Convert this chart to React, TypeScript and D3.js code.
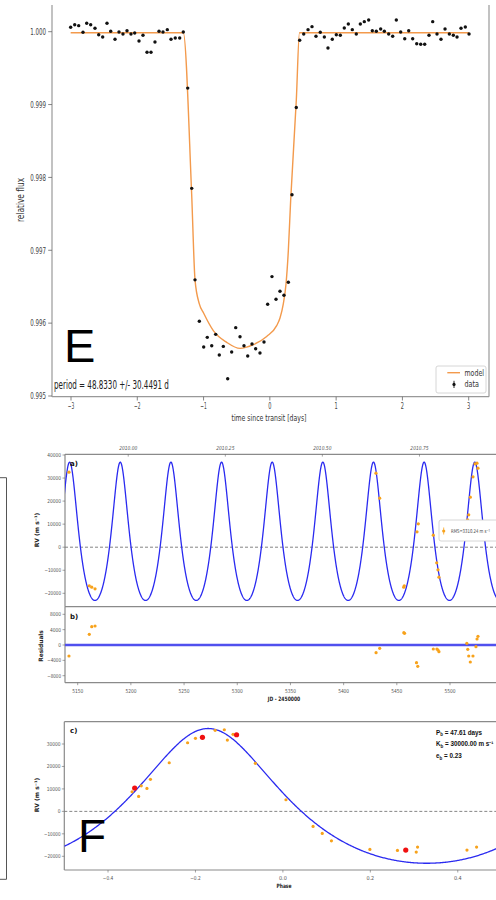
import React from 'react';
import * as d3 from 'd3';

// ---------- Panel E : transit light curve ----------
const transitTime = [-3.005,-2.944,-2.884,-2.819,-2.763,-2.703,-2.638,-2.582,-2.522,-2.457,-2.401,-2.336,-2.276,-2.216,-2.155,-2.095,-2.039,-1.974,-1.914,-1.853,-1.793,-1.733,-1.672,-1.612,-1.547,-1.491,-1.427,-1.360,-1.306,-1.239,-1.179,-1.129,-1.064,-0.998,-0.944,-0.877,-0.817,-0.763,-0.702,-0.636,-0.576,-0.515,-0.450,-0.390,-0.334,-0.269,-0.214,-0.149,-0.088,-0.033,0.032,0.093,0.153,0.213,0.279,0.334,0.399,0.450,0.511,0.576,0.636,0.696,0.761,0.822,0.877,0.942,1.003,1.063,1.123,1.184,1.244,1.304,1.365,1.425,1.491,1.546,1.606,1.672,1.727,1.793,1.853,1.908,1.974,2.035,2.095,2.155,2.216,2.276,2.336,2.401,2.457,2.522,2.582,2.643,2.708,2.768,2.824,2.884,2.949,3.005];
const transitFlux = [1.000061,1.000096,1.000083,0.999992,1.000116,1.000096,1.000047,0.999959,0.999927,1.000116,1.000006,0.999896,0.999996,0.999968,1.000014,0.999968,0.999982,0.999872,0.999951,0.999717,0.999717,0.999858,1.000006,0.999996,1.000028,0.999896,0.999913,0.999913,0.999996,0.999226,0.997850,0.996594,0.996025,0.995673,0.995805,0.995690,0.995846,0.995563,0.995681,0.995237,0.995604,0.995938,0.995814,0.995690,0.995549,0.995714,0.995649,0.995590,0.995741,0.996259,0.996639,0.996327,0.996437,0.996382,0.996561,0.997763,0.998960,0.999882,0.999968,1.000028,1.000069,0.999937,0.999992,0.999927,0.999776,0.999896,0.999959,0.999951,1.000051,1.000106,1.000028,0.999968,1.000106,1.000138,1.000161,1.000014,1.000006,1.000037,1.000006,0.999968,0.999937,1.000161,0.999996,0.999904,1.000014,0.999904,0.999835,0.999827,0.999827,0.999951,1.000138,0.999968,0.999896,1.000037,0.999968,0.999951,0.999927,1.000047,1.000065,0.999968];
const modelTime = [-3.005,-1.306,-1.18,-1.129,-1.064,-0.998,-0.853,-0.651,-0.450,-0.250,-0.048,0.103,0.153,0.203,0.244,0.279,0.314,0.399,0.447,3.005];
const modelFlux = [0.999986,0.999986,0.99778,0.996594,0.996264,0.996135,0.995897,0.995736,0.995653,0.995704,0.995818,0.995966,0.996071,0.996264,0.996539,0.996997,0.997685,0.999059,0.999986,0.999986];
const eXTicks = [-3,-2,-1,0,1,2,3];
const eYTicks = [0.995,0.996,0.997,0.998,0.999,1.000];

// ---------- Panel F : radial velocities ----------
const rvJD = [5141.8,5160.9,5163.2,5166.3,5430.4,5433.9,5456.5,5457.0,5469.0,5470.2,5484.3,5487.5,5488.7,5489.6,5516.6,5517.6,5519.1,5521.6,5523.5,5525.4,5526.3];
const rvVal = [32540,-16750,-17350,-18050,32100,21260,-17350,-16750,6680,10150,5200,-6770,-9800,-13000,11890,14060,21690,30540,36180,36440,34270];
const resJD = [5141.8,5160.9,5163.2,5166.3,5430.5,5433.9,5456.6,5457.3,5468.5,5469.7,5484.3,5487.7,5488.7,5489.6,5515.8,5516.7,5517.6,5519.1,5521.6,5524.4,5525.4,5526.3];
const resVal = [-2860,2790,4770,4950,-1990,-860,3200,3040,-4610,-5550,-1040,-1040,-1300,-1740,440,-1120,-2860,-4430,-2860,-440,1560,2270];
const phaseVal = [-0.345,-0.330,-0.324,-0.311,-0.303,-0.260,-0.218,-0.200,-0.155,-0.134,-0.127,-0.114,-0.063,0.007,0.069,0.090,0.111,0.199,0.262,0.305,0.308,0.421,0.443];
const phaseRV = [8730,6680,11400,10240,14250,21650,30560,32520,36080,36350,31760,34300,21380,5170,-6680,-9800,-13100,-16930,-17370,-18130,-15900,-17240,-15900];
const phaseRedVal = [-0.339,-0.184,-0.106,0.281];
const phaseRedRV = [10380,32960,34120,-17240];
const dateTickJD = [5197.5,5288.8,5380.0,5471.3];
const dateTickLabels = ['2010.00','2010.25','2010.50','2010.75'];
const aYTicks = [-20000,-10000,0,10000,20000,30000,40000];
const bYTicks = [-8000,-4000,0,4000,8000];
const jdTicks = [5150,5200,5250,5300,5350,5400,5450,5500];
const cYTicks = [-20000,-10000,0,10000,20000,30000];
const phaseTicks = [-0.4,-0.2,0.0,0.2,0.4];

// Keplerian fit parameters shown in the figure
const P_b = 47.61;
const K_b = 30000;
const e_b = 0.23;
const omega_b = 0;
const Tperi = 5142.4;
const phasePeri = -0.171;

function keplerRV(M: number): number {
  let E = M;
  for (let i = 0; i < 40; i++) E = E - (E - e_b * Math.sin(E) - M) / (1 - e_b * Math.cos(E));
  const nu = 2 * Math.atan2(Math.sqrt(1 + e_b) * Math.sin(E / 2), Math.sqrt(1 - e_b) * Math.cos(E / 2));
  return K_b * (Math.cos(nu + omega_b) + e_b * Math.cos(omega_b));
}

const fmtMinus = (s: string) => s.replace('-', '\u2212');

function Lbl(props: any) {
  const { x, y, t, size, cw, anchor = 'middle', fill = '#444', family = 'DejaVu Sans', weight = 'normal', style = 'normal', rotate } = props;
  const len = cw ? t.length * cw : undefined;
  return (
    <text x={x} y={y} fontSize={size} fill={fill} fontFamily={family} fontWeight={weight} fontStyle={style}
      textAnchor={anchor} textLength={len} lengthAdjust={len ? 'spacingAndGlyphs' : undefined}
      transform={rotate ? `rotate(${rotate},${x},${y})` : undefined}>{t}</text>
  );
}

export default function App() {
  // ---- E scales
  const ex = d3.scaleLinear().domain([-3, 3]).range([71, 468.7]);
  const ey = d3.scaleLinear().domain([0.995, 1.0]).range([396, 31.7]);
  const eLine = d3.line<number>().x((_, i) => ex(modelTime[i])).y((d) => ey(d)).curve(d3.curveMonotoneX);

  // ---- F scales
  const jx = d3.scaleLinear().domain([5150, 5500]).range([77.7, 450]);
  const ay = d3.scaleLinear().domain([-20000, 40000]).range([593.3, 455]);
  const by = d3.scaleLinear().domain([-8000, 8000]).range([675.7, 614.3]);
  const px = d3.scaleLinear().domain([-0.5, 0.5]).range([64.3, 501.5]);
  const cy = d3.scaleLinear().domain([-20000, 30000]).range([856.3, 744]);

  const tGrid = d3.range(5130, 5570, 0.2);
  const aPath = d3.line<number>().x((t) => jx(t)).y((t) => ay(keplerRV((2 * Math.PI * (t - Tperi)) / P_b)))(tGrid) || '';
  const phGrid = d3.range(-0.5, 0.5005, 0.002);
  const cPath = d3.line<number>().x((p) => px(p)).y((p) => cy(keplerRV(2 * Math.PI * (p - phasePeri))))(phGrid) || '';

  const spineE = '#999';
  const spineF = '#8a8a8a';
  const orange = '#f7a21b';
  const blue = '#2a2af0';

  return (
    <svg width={496} height={900} style={{ position: 'absolute', left: 0, top: 0, background: '#fff' }}>
      <rect x={0} y={0} width={496} height={900} fill="#fff" />
      <defs>
        <clipPath id="clipA"><rect x={65} y={454.3} width={440} height={152.4} /></clipPath>
        <clipPath id="clipB"><rect x={65} y={606.7} width={440} height={76} /></clipPath>
        <clipPath id="clipC"><rect x={64.3} y={721.7} width={440} height={148.3} /></clipPath>
      </defs>

      {/* ================= Panel E ================= */}
      <g>
        <line x1={52} x2={52} y1={5} y2={396.7} stroke={spineE} strokeWidth={1.2} />
        <line x1={52} x2={489} y1={396.7} y2={396.7} stroke={spineE} strokeWidth={1.2} />
        <line x1={489} x2={489} y1={5} y2={396.7} stroke={spineE} strokeWidth={1.2} />
        {eXTicks.map((t) => (
          <g key={'ex' + t}>
            <line x1={ex(t)} x2={ex(t)} y1={396.7} y2={400.5} stroke="#666" strokeWidth={0.8} />
            <Lbl x={ex(t)} y={408.8} t={fmtMinus(String(t))} size={9} cw={3.2} />
          </g>
        ))}
        {eYTicks.map((t) => (
          <g key={'ey' + t}>
            <line x1={48.2} x2={52} y1={ey(t)} y2={ey(t)} stroke="#666" strokeWidth={0.8} />
            <Lbl x={46} y={ey(t) + 3.3} t={t.toFixed(3)} size={9.5} cw={3.15} anchor="end" />
          </g>
        ))}
        <Lbl x={269} y={420.5} t="time since transit [days]" size={9.5} cw={3.0} fill="#333" />
        <Lbl x={24} y={200} t="relative flux" size={10} cw={3.4} fill="#333" rotate={-90} />
        <path d={eLine(modelFlux) || ''} fill="none" stroke="#f39a4c" strokeWidth={1.4} />
        {transitTime.map((t, i) => (
          <circle key={'ed' + i} cx={ex(t)} cy={ey(transitFlux[i])} r={1.7} fill="#111" />
        ))}
        <text x={64} y={361.7} fontSize={47} fontFamily="Liberation Sans" fill="#000">E</text>
        <Lbl x={54} y={388.8} t="period = 48.8330 +/- 30.4491 d" size={12} cw={3.83} anchor="start" fill="#222" />
        <rect x={436} y={366} width={50} height={27} fill="#fff" stroke="#ccc" strokeWidth={0.8} rx={2} />
        <line x1={447.3} x2={460} y1={372.7} y2={372.7} stroke="#f39a4c" strokeWidth={1.4} />
        <Lbl x={464.5} y={375.8} t="model" size={9} cw={3.9} anchor="start" fill="#333" />
        <line x1={454} x2={454} y1={380.8} y2={388} stroke="#111" strokeWidth={0.9} />
        <circle cx={454} cy={384.4} r={1.6} fill="#111" />
        <Lbl x={464.5} y={387.3} t="data" size={9} cw={3.6} anchor="start" fill="#333" />
      </g>

      {/* ================= Panel F ================= */}
      <g>
        {/* outer frame fragment */}
        <path d="M0,477.7 H6.5 V879.3 H0" fill="none" stroke="#555" strokeWidth={1} />

        {/* ---- a) ---- */}
        <line x1={65} x2={496} y1={454.3} y2={454.3} stroke={spineF} strokeWidth={1.2} />
        <line x1={65} x2={65} y1={454.3} y2={606.7} stroke={spineF} strokeWidth={1.2} />
        {dateTickJD.map((d, i) => (
          <g key={'dt' + i}>
            <line x1={jx(d)} x2={jx(d)} y1={454.3} y2={456.6} stroke="#666" strokeWidth={0.6} />
            <Lbl x={jx(d)} y={449.5} t={dateTickLabels[i]} size={5.5} cw={2.6} style="italic" fill="#555" />
          </g>
        ))}
        {aYTicks.map((t) => (
          <g key={'ay' + t}>
            <line x1={62.5} x2={65} y1={ay(t)} y2={ay(t)} stroke="#666" strokeWidth={0.6} />
            <Lbl x={61} y={ay(t) + 2} t={fmtMinus(String(t))} size={5.5} cw={2.75} anchor="end" fill="#555" />
          </g>
        ))}
        <line x1={65} x2={496} y1={ay(0)} y2={ay(0)} stroke="#777" strokeWidth={0.9} strokeDasharray="3,2" />
        <path d={aPath} fill="none" stroke={blue} strokeWidth={1.3} clipPath="url(#clipA)" />
        {rvJD.map((d, i) => (
          <g key={'ap' + i}>
            <circle cx={jx(d)} cy={ay(rvVal[i])} r={1.6} fill={orange} />
          </g>
        ))}
        <Lbl x={70} y={466} t="a)" size={7} weight="bold" fill="#111" anchor="start" />
        <Lbl x={39} y={530} t="RV (m s⁻¹)" size={6} weight="bold" fill="#222" rotate={-90} />
        <rect x={439} y={520} width={70} height={21} fill="#fff" stroke="#ccc" strokeWidth={0.8} rx={2} />
        <line x1={443.7} x2={443.7} y1={527.5} y2={534.5} stroke={orange} strokeWidth={0.8} />
        <circle cx={443.7} cy={531} r={1.6} fill={orange} />
        <Lbl x={451} y={533.3} t="RMS=3310.24 m s⁻¹" size={5.3} cw={2.3} anchor="start" fill="#444" />

        {/* ---- b) ---- */}
        <line x1={65} x2={496} y1={606.7} y2={606.7} stroke={spineF} strokeWidth={1.2} />
        <line x1={65} x2={65} y1={606.7} y2={682.7} stroke={spineF} strokeWidth={1.2} />
        <line x1={65} x2={496} y1={682.7} y2={682.7} stroke={spineF} strokeWidth={1.2} />
        {bYTicks.map((t) => (
          <g key={'by' + t}>
            <line x1={62.5} x2={65} y1={by(t)} y2={by(t)} stroke="#666" strokeWidth={0.6} />
            <Lbl x={61} y={by(t) + 2} t={fmtMinus(String(t))} size={5.5} cw={2.75} anchor="end" fill="#555" />
          </g>
        ))}
        {jdTicks.map((t) => (
          <g key={'bx' + t}>
            <line x1={jx(t)} x2={jx(t)} y1={682.7} y2={685.2} stroke="#666" strokeWidth={0.6} />
            <Lbl x={jx(t)} y={692.7} t={String(t)} size={5.5} cw={2.75} fill="#555" />
          </g>
        ))}
        <line x1={65} x2={496} y1={by(0)} y2={by(0)} stroke="#5050ee" strokeWidth={2.4} clipPath="url(#clipB)" />
        {resJD.map((d, i) => (
          <circle key={'bp' + i} cx={jx(d)} cy={by(resVal[i])} r={1.6} fill={orange} />
        ))}
        <Lbl x={70} y={619} t="b)" size={7} weight="bold" fill="#111" anchor="start" />
        <Lbl x={42.5} y={646} t="Residuals" size={6} cw={3.5} weight="bold" fill="#222" rotate={-90} />
        <Lbl x={284} y={701} t="JD - 2450000" size={6} cw={2.7} weight="bold" fill="#222" />

        {/* ---- c) ---- */}
        <line x1={64.3} x2={496} y1={721.7} y2={721.7} stroke={spineF} strokeWidth={1.2} />
        <line x1={64.3} x2={64.3} y1={721.7} y2={870} stroke={spineF} strokeWidth={1.2} />
        <line x1={64.3} x2={496} y1={870} y2={870} stroke={spineF} strokeWidth={1.2} />
        {cYTicks.map((t) => (
          <g key={'cy' + t}>
            <line x1={61.8} x2={64.3} y1={cy(t)} y2={cy(t)} stroke="#666" strokeWidth={0.6} />
            <Lbl x={60.5} y={cy(t) + 2} t={fmtMinus(String(t))} size={5.5} cw={2.75} anchor="end" fill="#555" />
          </g>
        ))}
        {phaseTicks.map((t) => (
          <g key={'cx' + t}>
            <line x1={px(t)} x2={px(t)} y1={870} y2={872.5} stroke="#666" strokeWidth={0.6} />
            <Lbl x={px(t)} y={879.5} t={fmtMinus(t.toFixed(1))} size={5.5} cw={2.6} fill="#555" />
          </g>
        ))}
        <line x1={64.3} x2={496} y1={cy(0)} y2={cy(0)} stroke="#777" strokeWidth={0.9} strokeDasharray="3,2" />
        <path d={cPath} fill="none" stroke={blue} strokeWidth={1.3} clipPath="url(#clipC)" />
        {phaseVal.map((p, i) => (
          <circle key={'cp' + i} cx={px(p)} cy={cy(phaseRV[i])} r={1.6} fill={orange} />
        ))}
        {phaseRedVal.map((p, i) => (
          <circle key={'cr' + i} cx={px(p)} cy={cy(phaseRedRV[i])} r={2.6} fill="#f01010" />
        ))}
        <Lbl x={70} y={733} t="c)" size={7} weight="bold" fill="#111" anchor="start" />
        <Lbl x={39} y={795} t="RV (m s⁻¹)" size={6} weight="bold" fill="#222" rotate={-90} />
        <Lbl x={284} y={888} t="Phase" size={6} cw={3.0} weight="bold" fill="#222" />
        <text x={436} y={734.6} fontSize={6.3} fontFamily="Liberation Sans" fontWeight="bold" fill="#111">
          P<tspan fontSize={4.5} dy={1.5}>b</tspan><tspan dy={-1.5}> = 47.61 days</tspan>
        </text>
        <text x={436} y={746.3} fontSize={6.3} fontFamily="Liberation Sans" fontWeight="bold" fill="#111">
          K<tspan fontSize={4.5} dy={1.5}>b</tspan><tspan dy={-1.5}> = 30000.00 m s⁻¹</tspan>
        </text>
        <text x={436} y={758} fontSize={6.3} fontFamily="Liberation Sans" fontWeight="bold" fill="#111">
          e<tspan fontSize={4.5} dy={1.5}>b</tspan><tspan dy={-1.5}> = 0.23</tspan>
        </text>

        <text x={78} y={851.7} fontSize={46} fontFamily="Liberation Sans" fill="#000">F</text>
      </g>
    </svg>
  );
}
